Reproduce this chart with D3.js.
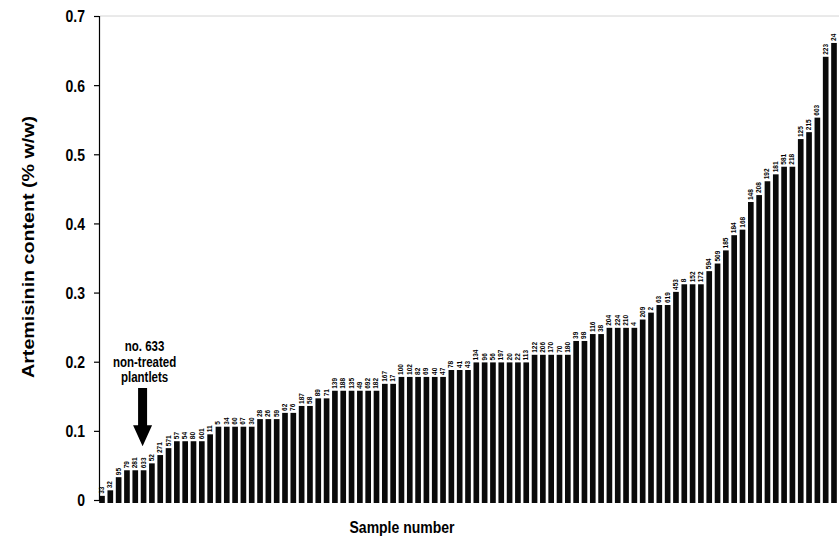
<!DOCTYPE html>
<html>
<head>
<meta charset="utf-8">
<script src="https://cdn.jsdelivr.net/npm/d3@7"></script>
<style>
  body { margin: 0; background: #fff; }
  svg text { font-family: "Liberation Sans", Arial, sans-serif; font-weight: bold; fill: #000; }
</style>
</head>
<body>
<svg id="chart" width="839" height="540"></svg>
<script>
// Sample numbers, in the order the bars are drawn (ascending artemisinin content)
const sampleIds = [
  "33","32","95","79","281","633","52","271","571","57",
  "54","80","601","11","5","34","60","67","30","28",
  "26","59","62","76","187","58","89","71","139","188",
  "135","49","692","182","167","17","100","102","82","69",
  "40","47","78","41","43","134","96","56","197","20",
  "22","113","122","206","170","70","180","39","98","116",
  "38","204","224","210","4","209","2","63","619","453",
  "8","152","172","594","509","185","184","168","148","208",
  "192","181","581","218","125","215","603","223","24"
];

// Artemisinin content, % w/w
const artemisinin = [
  0.006,0.014,0.033,0.043,0.043,0.043,0.053,0.065,0.075,0.085,
  0.085,0.085,0.085,0.095,0.106,0.106,0.106,0.106,0.106,0.117,
  0.117,0.117,0.126,0.126,0.136,0.136,0.147,0.147,0.158,0.158,
  0.158,0.158,0.158,0.158,0.168,0.168,0.178,0.178,0.178,0.178,
  0.178,0.178,0.188,0.188,0.188,0.199,0.199,0.199,0.199,0.199,
  0.199,0.199,0.21,0.21,0.21,0.21,0.21,0.23,0.23,0.24,
  0.24,0.249,0.249,0.249,0.249,0.261,0.271,0.282,0.282,0.301,
  0.312,0.312,0.312,0.331,0.342,0.361,0.383,0.391,0.431,0.441,
  0.461,0.471,0.482,0.482,0.522,0.532,0.553,0.641,0.661
];

const yTicks = [0, 0.1, 0.2, 0.3, 0.4, 0.5, 0.6, 0.7];
const yTickLabels = ["0", "0.1", "0.2", "0.3", "0.4", "0.5", "0.6", "0.7"];

const highlighted = "633";
const calloutLines = ["no. 633", "non-treated", "plantlets"];

const svg = d3.select("#chart");
const stretch = 1.2; // printed type is taller than it is wide

const x = d3.scaleBand()
  .domain(d3.range(sampleIds.length))
  .range([98, 838])
  .paddingInner(0.32)
  .paddingOuter(0.14);

const y = d3.scaleLinear().domain([0, 0.7]).range([500, 16]);

// faint frame line along the top of the plot
svg.append("line")
  .attr("x1", 100).attr("x2", 839)
  .attr("y1", y(0.7)).attr("y2", y(0.7))
  .attr("stroke", "#d4d4d4").attr("stroke-width", 1);

// bars
svg.append("g").selectAll("rect")
  .data(artemisinin)
  .join("rect")
  .attr("x", (d, i) => x(i))
  .attr("width", x.bandwidth())
  .attr("y", d => y(d))
  .attr("height", d => y(0) - y(d) + 3)
  .attr("fill", "#0a0a0a");

// sample number above each bar
svg.append("g").selectAll("text")
  .data(artemisinin)
  .join("text")
  .attr("transform", (d, i) => `translate(${x(i) + x.bandwidth() / 2 + 2},${y(d) - 2}) rotate(-90)`)
  .attr("text-anchor", "start")
  .style("font-size", "6.5px")
  .text((d, i) => sampleIds[i]);

// y axis
const yAxis = svg.append("g")
  .attr("transform", "translate(99,0)")
  .call(d3.axisLeft(y).tickValues(yTicks).tickFormat((d, i) => yTickLabels[i]).tickSize(5).tickPadding(9));
yAxis.select(".domain").attr("stroke", "#000").attr("stroke-width", 1.2);
yAxis.selectAll(".tick line").attr("stroke", "#000").attr("stroke-width", 1.2);
yAxis.selectAll(".tick text")
  .style("font-size", "14px")
  .style("font-family", "'Liberation Sans', Arial, sans-serif")
  .style("font-weight", "bold")
  .attr("fill", "#000")
  .attr("dy", null)
  .attr("y", 0)
  .attr("dominant-baseline", "central")
  .attr("transform", `scale(1,${stretch})`);

// axis titles
svg.append("text")
  .attr("transform", `translate(34,247) rotate(-90)`)
  .attr("text-anchor", "middle")
  .attr("textLength", 262)
  .attr("lengthAdjust", "spacingAndGlyphs")
  .style("font-size", "16px")
  .text("Artemisinin content (% w/w)");

svg.append("text")
  .attr("transform", `translate(402,533) scale(1,${stretch})`)
  .attr("text-anchor", "middle")
  .style("font-size", "14px")
  .text("Sample number");

// call-out for the non-treated control plantlets
const hi = sampleIds.indexOf(highlighted);
const ax = x(hi) + x.bandwidth() / 2 - 1;
const tipY = y(artemisinin[hi]) - 24;
const arrow = d3.path();
arrow.moveTo(ax - 4.5, 388);
arrow.lineTo(ax + 4.5, 388);
arrow.lineTo(ax + 4.5, tipY - 21);
arrow.lineTo(ax + 9.5, tipY - 21);
arrow.lineTo(ax, tipY);
arrow.lineTo(ax - 9.5, tipY - 21);
arrow.lineTo(ax - 4.5, tipY - 21);
arrow.closePath();
svg.append("path").attr("d", arrow.toString()).attr("fill", "#000");

svg.append("g").selectAll("text")
  .data(calloutLines)
  .join("text")
  .attr("transform", (d, i) => `translate(${ax + 2},${351 + i * 15.5}) scale(1,${stretch})`)
  .attr("text-anchor", "middle")
  .style("font-size", "11.5px")
  .text(d => d);
</script>
</body>
</html>
